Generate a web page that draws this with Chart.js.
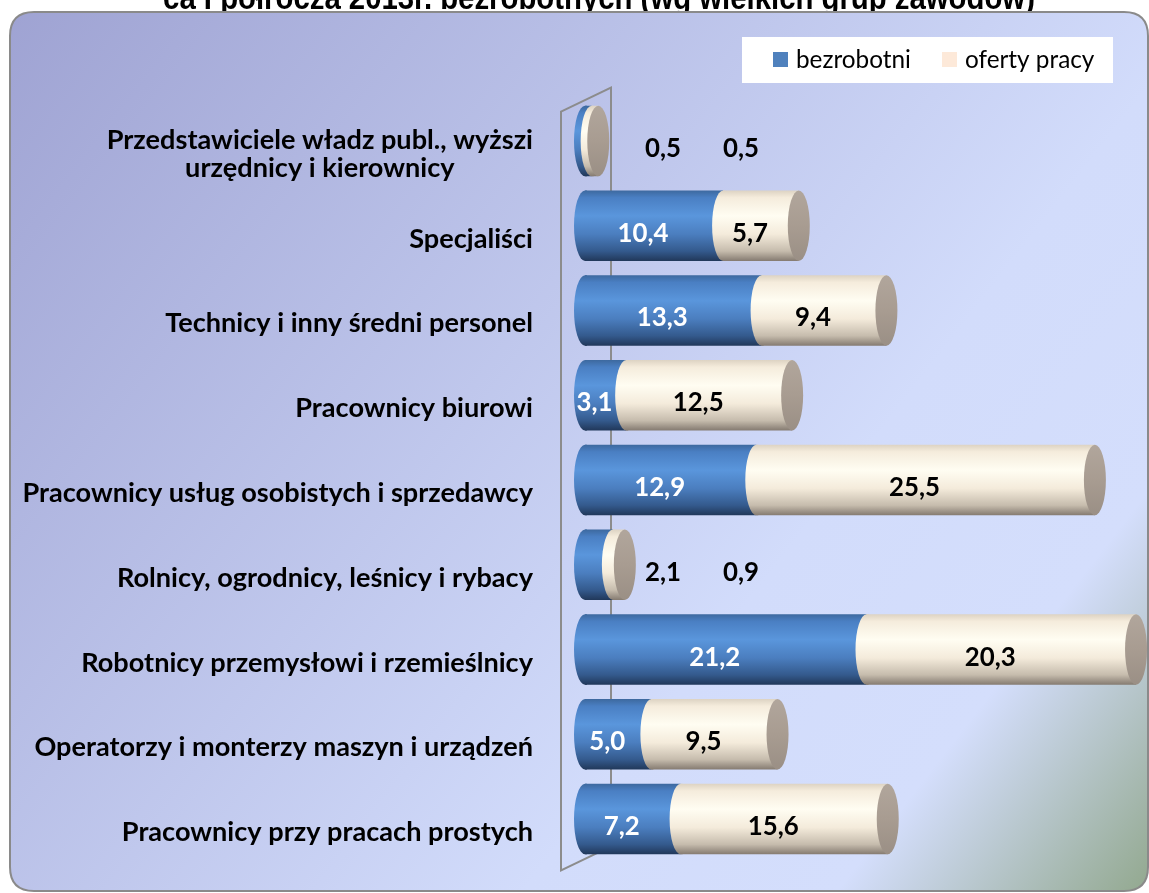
<!DOCTYPE html>
<html><head><meta charset="utf-8">
<script src="https://cdn.jsdelivr.net/npm/chart.js@4/dist/chart.umd.min.js"></script>
<style>html,body{margin:0;padding:0;background:#fff;overflow:hidden}canvas{display:block}</style>
</head><body>
<canvas id="c" width="1149" height="893"></canvas>
<script>
const titleText = "ca I półrocza 2013r. bezrobotnych (wg wielkich grup zawodów)";
const categories = [
  ["Przedstawiciele władz publ., wyższi", "urzędnicy i kierownicy"],
  "Specjaliści",
  "Technicy i inny średni personel",
  "Pracownicy biurowi",
  "Pracownicy usług osobistych i sprzedawcy",
  "Rolnicy, ogrodnicy, leśnicy i rybacy",
  "Robotnicy przemysłowi i rzemieślnicy",
  "Operatorzy i monterzy maszyn i urządzeń",
  "Pracownicy przy pracach prostych"
];
const seriesNames = ["bezrobotni", "oferty pracy"];
const bezrobotni = [0.5, 10.4, 13.3, 3.1, 12.9, 2.1, 21.2, 5.0, 7.2];
const ofertyPracy = [0.5, 5.7, 9.4, 12.5, 25.5, 0.9, 20.3, 9.5, 15.6];
const xMax = 42.4;

const legendColors = ["#4f81bd", "#fde9d9"];
const blueStops = [[0,'#3d699f'],[0.1,'#4a7fc3'],[0.36,'#5a96dc'],[0.62,'#4b7ebf'],[0.86,'#345a8d'],[1,'#21385a']];
const creamStops = [[0,'#ddd3c3'],[0.1,'#f5ecdc'],[0.36,'#fffdf2'],[0.62,'#f4ebdb'],[0.86,'#c6bcad'],[1,'#857b71']];
const RX = 11;
const FONT = "Lato";

const cv = document.getElementById('c');
const mctx = cv.getContext('2d');
function fitSize(text, weight, family, target){
  mctx.font = weight + " 100px " + family;
  return 100 * target / mctx.measureText(text).width;
}
const catSize = fitSize("Pracownicy usług osobistych i sprzedawcy", "bold", FONT, 511);
const valSize = fitSize("10,4", "bold", FONT, 51);
const legSize = fitSize("bezrobotni", "normal", FONT, 115);
const titleSize = fitSize(titleText, "bold", "'Liberation Sans'", 872);
const catStretch = 19 / (0.72 * catSize);

function fmt(v){ return v.toFixed(1).replace('.', ','); }

function gradAt(ctx, yc, h, stops){
  const g = ctx.createLinearGradient(0, yc - h/2, 0, yc + h/2);
  stops.forEach(s => g.addColorStop(s[0], s[1]));
  return g;
}
function barGrad(c, stops){
  const chart = c.chart;
  const ys = chart.scales && chart.scales.y;
  if (!ys || c.dataIndex === undefined || !chart.chartArea) return stops[2][1];
  const yc = ys.getPixelForValue(c.dataIndex);
  const step = Math.abs(ys.getPixelForValue(1) - ys.getPixelForValue(0));
  return gradAt(chart.ctx, yc, step * 0.83, stops);
}
function leftCap(ctx, x, yc, ry, fill){
  ctx.beginPath();
  ctx.moveTo(x + 2, yc - ry);
  ctx.lineTo(x, yc - ry);
  ctx.ellipse(x, yc, RX, ry, 0, 3*Math.PI/2, Math.PI/2, true);
  ctx.lineTo(x + 2, yc + ry);
  ctx.closePath();
  ctx.fillStyle = fill;
  ctx.fill();
}

const deco = {
  id: 'deco',
  beforeDraw(chart){
    const ctx = chart.ctx;
    ctx.save();
    ctx.fillStyle = '#ffffff';
    ctx.fillRect(0, 0, chart.width, chart.height);
    ctx.fillStyle = '#000';
    ctx.font = "bold " + titleSize + "px 'Liberation Sans'";
    ctx.textAlign = 'center';
    ctx.textBaseline = 'alphabetic';
    ctx.save();
    ctx.translate(599, 9);
    ctx.scale(1, 1.15);
    ctx.fillText(titleText, 0, 0);
    ctx.restore();
    const x0 = 10, y0 = 12, x1 = 1148, y1 = 891, r = 24;
    ctx.beginPath();
    ctx.moveTo(x0 + r, y0);
    ctx.lineTo(x1 - r, y0);
    ctx.quadraticCurveTo(x1, y0, x1, y0 + r);
    ctx.lineTo(x1, y1 - r);
    ctx.quadraticCurveTo(x1, y1, x1 - r, y1);
    ctx.lineTo(x0 + r, y1);
    ctx.quadraticCurveTo(x0, y1, x0, y1 - r);
    ctx.lineTo(x0, y0 + r);
    ctx.quadraticCurveTo(x0, y0, x0 + r, y0);
    ctx.closePath();
    const g = ctx.createLinearGradient(0, 0, chart.width, chart.height);
    g.addColorStop(0, '#9ea2d2');
    g.addColorStop(0.66, '#d2dcfb');
    g.addColorStop(0.83, '#d4defc');
    g.addColorStop(1, '#92a88e');
    ctx.fillStyle = g;
    ctx.fill();
    ctx.lineWidth = 2;
    ctx.strokeStyle = '#8a8a8a';
    ctx.stroke();
    ctx.restore();
  },
  beforeDatasetsDraw(chart){
    const ctx = chart.ctx, a = chart.chartArea;
    const zx = chart.scales.x.getPixelForValue(0);
    ctx.save();
    ctx.strokeStyle = '#8c8c8c';
    ctx.lineWidth = 2;
    ctx.beginPath();
    ctx.moveTo(zx - 24, a.top + 13);
    ctx.lineTo(zx + 26, a.top - 11);
    ctx.lineTo(zx + 26, a.bottom - 15);
    ctx.lineTo(zx - 24, a.bottom + 9);
    ctx.closePath();
    ctx.stroke();
    ctx.restore();
  },
  afterDatasetsDraw(chart){
    const ctx = chart.ctx;
    const m0 = chart.getDatasetMeta(0), m1 = chart.getDatasetMeta(1);
    ctx.save();
    for (let i = 0; i < categories.length; i++){
      const b = m0.data[i], o = m1.data[i];
      const h = b.height, ry = h / 2, yc = b.y;
      leftCap(ctx, b.base, yc, ry, gradAt(ctx, yc, h, blueStops));
      leftCap(ctx, o.base, yc, ry, gradAt(ctx, yc, h, creamStops));
      ctx.beginPath();
      ctx.ellipse(o.x, yc, RX, ry, 0, 0, Math.PI*2);
      const cg = ctx.createLinearGradient(0, yc - ry, 0, yc + ry);
      cg.addColorStop(0, '#b1a69c');
      cg.addColorStop(0.5, '#a89c91');
      cg.addColorStop(1, '#9a8f85');
      ctx.fillStyle = cg;
      ctx.fill();
    }
    ctx.restore();
  },
  afterDraw(chart){
    const ctx = chart.ctx;
    const xs = chart.scales.x, ys = chart.scales.y;
    const zx = xs.getPixelForValue(0);
    ctx.save();
    ctx.fillStyle = '#000';
    ctx.font = "bold " + catSize + "px " + FONT;
    ctx.textBaseline = 'alphabetic';
    ctx.textAlign = 'center';
    const rightX = zx - 52;
    categories.forEach((lab, i) => {
      const lines = Array.isArray(lab) ? lab : [lab];
      const yc = ys.getPixelForValue(i);
      const maxW = Math.max(...lines.map(l => ctx.measureText(l).width));
      const cx = rightX - maxW / 2;
      const lh = 28;
      const first = yc + 22 - (lines.length - 1) * lh / 2;
      lines.forEach((l, k) => {
        ctx.save();
        ctx.translate(cx, first + k * lh);
        ctx.scale(1, catStretch);
        ctx.fillText(l, 0, 0);
        ctx.restore();
      });
    });
    ctx.font = "bold " + valSize + "px " + FONT;
    const metas = [chart.getDatasetMeta(0), chart.getDatasetMeta(1)];
    const sets = [bezrobotni, ofertyPracy];
    for (let i = 0; i < categories.length; i++){
      let outside = 0;
      for (let d = 0; d < 2; d++){
        const el = metas[d].data[i];
        const txt = fmt(sets[d][i]);
        const w = ctx.measureText(txt).width;
        const segW = Math.abs(el.x - el.base);
        let cx;
        if (segW < w + 2){
          cx = zx + 78 + outside * 78;
          outside++;
          ctx.fillStyle = '#000';
        } else {
          cx = (el.x + el.base) / 2 - RX;
          ctx.fillStyle = d === 0 ? '#ffffff' : '#000000';
        }
        ctx.fillText(txt, cx, el.y + 16);
      }
    }
    ctx.fillStyle = '#ffffff';
    ctx.fillRect(742, 37, 371, 46);
    const lx = [773, 942];
    seriesNames.forEach((n, k) => {
      ctx.fillStyle = legendColors[k];
      ctx.fillRect(lx[k], 52, 15, 15);
      ctx.fillStyle = '#000';
      ctx.font = legSize + "px " + FONT;
      ctx.textAlign = 'left';
      ctx.textBaseline = 'middle';
      ctx.fillText(n, lx[k] + 23, 60);
    });
    ctx.restore();
  }
};

new Chart(cv, {
  type: 'bar',
  data: {
    labels: categories,
    datasets: [
      { label: seriesNames[0], data: bezrobotni, backgroundColor: c => barGrad(c, blueStops), borderWidth: 0, inflateAmount: 0 },
      { label: seriesNames[1], data: ofertyPracy, backgroundColor: c => barGrad(c, creamStops), borderWidth: 0, inflateAmount: 0 }
    ]
  },
  options: {
    indexAxis: 'y',
    responsive: false,
    animation: false,
    devicePixelRatio: 1,
    layout: { padding: { left: 585, right: 1, top: 98.6, bottom: 31.6 } },
    datasets: { bar: { categoryPercentage: 1, barPercentage: 0.83 } },
    scales: {
      x: { stacked: true, min: 0, max: xMax, display: false },
      y: { stacked: true, display: false }
    },
    plugins: { legend: { display: false }, tooltip: { enabled: false }, title: { display: false } }
  },
  plugins: [deco]
});
</script>
</body></html>
